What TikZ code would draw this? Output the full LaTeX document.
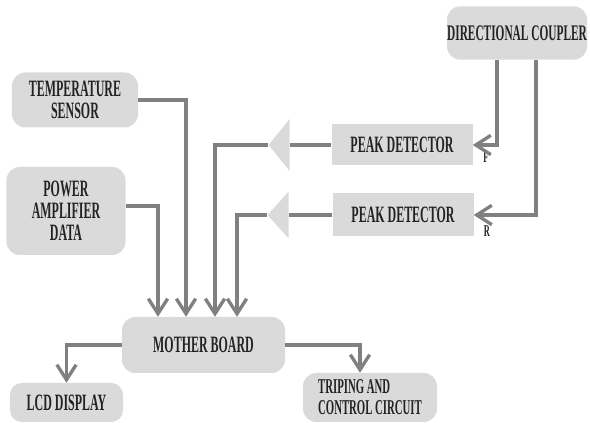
\documentclass[tikz,border=0pt]{standalone}
\usepackage{fontspec}
\usepackage{tikz}
\usetikzlibrary{arrows.meta,positioning,shapes.geometric,calc}
\newfontfamily\blockfont{Liberation Serif}[FakeStretch=0.51]
\definecolor{boxgray}{RGB}{218,218,218}
\definecolor{linegray}{RGB}{128,128,128}
\definecolor{textgray}{RGB}{35,35,35}
\tikzset{
  block/.style={fill=boxgray, rounded corners=4mm, inner sep=0pt, align=center, text=textgray, font=\blockfont\bfseries\fontsize{20}{19}\selectfont},
  plainblock/.style={block, rounded corners=0pt},
  amp/.style={isosceles triangle, isosceles triangle stretches, shape border rotate=180, fill=boxgray, minimum height=6.3mm, minimum width=15.6mm, inner sep=0pt, anchor=apex},
  arrow/.style={draw=linegray, line width=1mm, -{Straight Barb[length=4.5mm,width=5.8mm]}},
  link/.style={draw=linegray, line width=1mm},
  tag/.style={inner sep=0pt, text=textgray, font=\blockfont\bfseries\fontsize{14}{15}\selectfont}
}
\begin{document}
\begin{tikzpicture}[x=0.3mm,y=-0.3mm]
  \clip (0,0) rectangle (590,423);
  \node[block,minimum width=42mm,minimum height=16mm,font=\blockfont\bfseries\fontsize{19}{19}\selectfont] (coupler) at (517,33) {DIRECTIONAL COUPLER};
  \node[plainblock,minimum width=42.3mm,minimum height=12.3mm] (pd1) at (402,145) {PEAK DETECTOR};
  \node[plainblock,minimum width=42.3mm,minimum height=12.9mm] (pd2) at (403,215) {PEAK DETECTOR};
  \node[amp] (amp1) at (268,145) {};
  \node[amp,minimum width=14.1mm] (amp2) at (267,215) {};
  \node[block,minimum width=37.8mm,minimum height=16.5mm] (temp) at (75,100) {TEMPERATURE\\SENSOR};
  \node[block,minimum width=35.7mm,minimum height=26.4mm] (power) at (66,211) {POWER\\AMPLIFIER\\DATA};
  \node[block,minimum width=48.9mm,minimum height=16.8mm] (mboard) at (203.5,345) {MOTHER BOARD};
  \node[block,rounded corners=3.5mm,minimum width=33.9mm,minimum height=11.7mm] (lcd) at (66.5,402.5) {LCD DISPLAY};
  \node[block,rounded corners=4mm,minimum width=40.2mm,minimum height=14.7mm,align=left,font=\blockfont\bfseries\fontsize{18}{18}\selectfont] (trip) at (370,397.5) {TRIPING AND\\CONTROL CIRCUIT};
  \node[tag] (flabel) at (486,157) {F};
  \node[tag] (rlabel) at (487,231) {R};

  \draw[arrow] ([xshift=-6mm]coupler.south) |- (pd1.east);
  \draw[arrow] ([xshift=5.7mm]coupler.south) |- (pd2.east);
  \draw[link] (pd1.west) -- (amp1.lower side);
  \draw[link] (pd2.west) -- (amp2.lower side);
  \draw[arrow] (amp1.apex) -| ([xshift=3.45mm]mboard.north);
  \draw[arrow] (amp2.apex) -| ([xshift=10.05mm]mboard.north);
  \draw[arrow] (temp.east) -| ([xshift=-5.25mm]mboard.north);
  \draw[arrow] ([yshift=1.5mm]power.east) -| ([xshift=-13.65mm]mboard.north);
  \draw[arrow] (mboard.west) -| (lcd.north);
  \draw[arrow] (mboard.east) -| ([xshift=-3mm]trip.north);
\end{tikzpicture}
\end{document}
